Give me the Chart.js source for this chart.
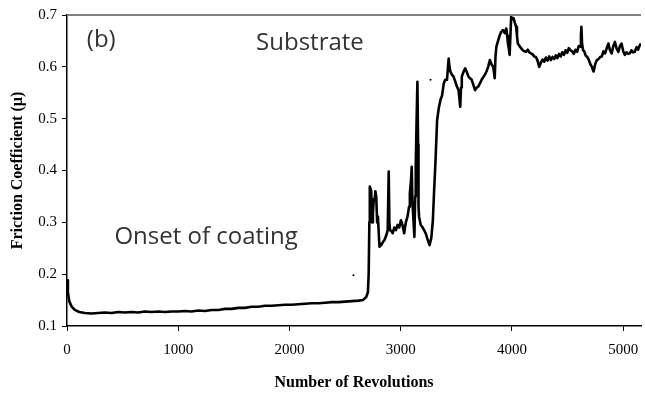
<!DOCTYPE html>
<html>
<head>
<meta charset="utf-8">
<script src="https://cdn.jsdelivr.net/npm/chart.js@4/dist/chart.umd.min.js"></script>
<style>
    html, body { margin: 0; padding: 0; background: #fff; }
    #wrap { width: 645px; height: 394px; }
</style>
</head>
<body>
<div id="wrap"><canvas id="frictionChart" width="645" height="394"></canvas></div>
<script>
// ── Data ──────────────────────────────────────────────────────
const revs = [
    0, 8, 20, 40, 70, 110, 160, 220, 280, 340, 400, 460, 520, 580, 640, 700,
    760, 820, 880, 940, 1000, 1060, 1120, 1180, 1240, 1300, 1360, 1420, 1480,
    1540, 1600, 1660, 1720, 1780, 1840, 1900, 1960, 2020, 2080, 2140, 2200,
    2260, 2320, 2380, 2440, 2500, 2560, 2620, 2660, 2690, 2705, 2712, 2718,
    2722, 2735, 2742, 2750, 2758, 2765, 2772, 2780, 2788, 2795, 2809, 2824,
    2840, 2854, 2870, 2883, 2892, 2898, 2904, 2916, 2928, 2942, 2957, 2972,
    2987, 3002, 3016, 3031, 3046, 3061, 3075, 3082, 3092, 3099, 3105, 3111,
    3123, 3130, 3135, 3143, 3150, 3156, 3160, 3165, 3180, 3194, 3210, 3224,
    3240, 3259, 3275, 3289, 3300, 3313, 3327, 3342, 3357, 3372, 3387, 3400,
    3416, 3425, 3431, 3438, 3446, 3460, 3475, 3490, 3505, 3520, 3535, 3542,
    3549, 3564, 3579, 3594, 3609, 3623, 3638, 3653, 3668, 3683, 3697, 3712,
    3727, 3742, 3757, 3771, 3786, 3801, 3816, 3831, 3838, 3845, 3852, 3860,
    3875, 3890, 3905, 3920, 3935, 3949, 3957, 3964, 3972, 3979, 3986, 3993,
    4004, 4014, 4026, 4038, 4045, 4053, 4068, 4082, 4097, 4112, 4127, 4142,
    4156, 4171, 4186, 4200, 4215, 4230, 4245, 4260, 4275, 4290, 4305, 4320,
    4335, 4349, 4365, 4380, 4394, 4408, 4423, 4438, 4452, 4467, 4482, 4497,
    4511, 4526, 4541, 4556, 4571, 4586, 4600, 4615, 4620, 4624, 4630, 4639,
    4650, 4662, 4674, 4690, 4705, 4719, 4726, 4734, 4748, 4763, 4778, 4793,
    4808, 4822, 4837, 4852, 4867, 4881, 4896, 4911, 4926, 4941, 4956, 4970,
    4985, 5000, 5015, 5030, 5045, 5059, 5075, 5090, 5104, 5120, 5133, 5146, 5160
];
const mu = [
    0.188, 0.165, 0.148, 0.138, 0.131, 0.127, 0.125, 0.124, 0.125, 0.126, 0.125,
    0.127, 0.126, 0.127, 0.126, 0.128, 0.127, 0.128, 0.127, 0.128, 0.128, 0.129,
    0.128, 0.130, 0.129, 0.131, 0.131, 0.133, 0.133, 0.135, 0.135, 0.137, 0.137,
    0.139, 0.139, 0.140, 0.141, 0.141, 0.142, 0.143, 0.144, 0.144, 0.145, 0.146,
    0.146, 0.147, 0.148, 0.149, 0.150, 0.156, 0.165, 0.200, 0.300,
    0.369, 0.360, 0.300, 0.317, 0.345, 0.343, 0.360, 0.349, 0.300, 0.311, 0.253, 0.256,
    0.262, 0.266, 0.275, 0.285, 0.398, 0.300, 0.285, 0.283, 0.279, 0.290, 0.285, 0.295,
    0.290, 0.304, 0.295, 0.279, 0.300, 0.311, 0.330, 0.356, 0.380, 0.407, 0.340, 0.317,
    0.272, 0.350, 0.407, 0.500, 0.571, 0.450, 0.330, 0.311, 0.295, 0.291, 0.285, 0.279,
    0.268, 0.256, 0.270, 0.304, 0.360, 0.420, 0.497, 0.520, 0.536, 0.545, 0.568, 0.575,
    0.575, 0.600, 0.616, 0.600, 0.591, 0.585, 0.581, 0.572, 0.562, 0.555, 0.523, 0.560,
    0.581, 0.590, 0.597, 0.590, 0.581, 0.578, 0.575, 0.565, 0.555, 0.560, 0.562, 0.568,
    0.575, 0.580, 0.585, 0.591, 0.600, 0.613, 0.605, 0.600, 0.590, 0.578, 0.620, 0.639,
    0.650, 0.661, 0.668, 0.671, 0.665, 0.674, 0.660, 0.645, 0.635, 0.623, 0.660, 0.697,
    0.692, 0.694, 0.685, 0.677, 0.660, 0.645, 0.640, 0.636, 0.632, 0.630, 0.629, 0.633,
    0.628, 0.626, 0.624, 0.620, 0.619, 0.612, 0.600, 0.608, 0.614, 0.610, 0.618, 0.612,
    0.620, 0.613, 0.619, 0.615, 0.622, 0.617, 0.625, 0.620, 0.628, 0.623, 0.632, 0.627,
    0.636, 0.632, 0.630, 0.625, 0.633, 0.629, 0.640, 0.639, 0.660, 0.677, 0.645, 0.632,
    0.630, 0.622, 0.620, 0.614, 0.605, 0.600, 0.595, 0.591, 0.605, 0.613, 0.615, 0.619,
    0.620, 0.630, 0.626, 0.636, 0.645, 0.632, 0.626, 0.640, 0.648, 0.635, 0.629, 0.640,
    0.645, 0.630, 0.623, 0.628, 0.625, 0.626, 0.632, 0.628, 0.629, 0.638, 0.633, 0.640, 0.645
];

// two stray specks off the trace
const strayRevs = [2575, 3268];
const strayMu   = [0.198, 0.575];

const xTicks = [0, 1000, 2000, 3000, 4000, 5000];
const yTicks = [0.1, 0.2, 0.3, 0.4, 0.5, 0.6, 0.7];

// annotations placed in data coordinates
const notes = [
    { text: '(b)',              x: 178,  y: 0.652 },
    { text: 'Substrate',        x: 1700, y: 0.646 },
    { text: 'Onset of coating', x: 426,  y: 0.271 }
];

// ── Plugins ───────────────────────────────────────────────────
const topRule = {
    id: 'topRule',
    afterDraw(chart) {
        const { ctx, chartArea } = chart;
        ctx.save();
        ctx.strokeStyle = '#808080';
        ctx.lineWidth = 2;
        ctx.beginPath();
        ctx.moveTo(chartArea.left, chartArea.top);
        ctx.lineTo(chartArea.right, chartArea.top);
        ctx.stroke();
        ctx.restore();
    }
};

const noteLabels = {
    id: 'noteLabels',
    afterDatasetsDraw(chart) {
        const { ctx, scales } = chart;
        ctx.save();
        ctx.fillStyle = '#333';
        ctx.font = '24px "Open Sans", "Noto Sans", sans-serif';
        ctx.textAlign = 'left';
        ctx.textBaseline = 'middle';
        notes.forEach(n => {
            ctx.fillText(n.text, scales.x.getPixelForValue(n.x), scales.y.getPixelForValue(n.y));
        });
        ctx.restore();
    }
};

// ── Chart ─────────────────────────────────────────────────────
const serif = '"Liberation Serif", "Times New Roman", serif';

new Chart(document.getElementById('frictionChart').getContext('2d'), {
    type: 'line',
    data: {
        datasets: [{
            data: revs.map((r, i) => ({ x: r, y: mu[i] })),
            borderColor: '#000',
            borderWidth: 2.6,
            borderJoinStyle: 'round',
            pointRadius: 0,
            tension: 0
        }, {
            type: 'scatter',
            data: strayRevs.map((r, i) => ({ x: r, y: strayMu[i] })),
            backgroundColor: '#000',
            borderWidth: 0,
            pointRadius: 1
        }]
    },
    options: {
        responsive: false,
        animation: false,
        layout: { padding: { top: 15, right: 0, left: 0, bottom: 0 } },
        plugins: { legend: { display: false }, tooltip: { enabled: false } },
        scales: {
            x: {
                type: 'linear',
                min: 0,
                max: 5160,
                afterBuildTicks: s => { s.ticks = xTicks.map(v => ({ value: v })); },
                afterFit: s => { s.height = 68; s.paddingLeft = 0; s.paddingRight = 0; },
                grid: { drawOnChartArea: false, drawTicks: true, tickLength: 5, color: '#000' },
                border: { color: '#000', width: 1.5 },
                ticks: {
                    color: '#000',
                    font: { family: serif, size: 15 },
                    padding: 10,
                    maxRotation: 0,
                    callback: v => String(v)
                },
                title: {
                    display: true,
                    text: 'Number of Revolutions',
                    color: '#000',
                    font: { family: serif, size: 16, weight: 'bold' },
                    padding: { top: 0, bottom: 2 }
                }
            },
            y: {
                min: 0.1,
                max: 0.7,
                afterBuildTicks: s => { s.ticks = yTicks.map(v => ({ value: v })); },
                afterFit: s => { s.width = 67; },
                grid: { drawOnChartArea: false, drawTicks: true, tickLength: 5, color: '#000' },
                border: { color: '#000', width: 1.5 },
                ticks: {
                    color: '#000',
                    font: { family: serif, size: 15 },
                    padding: 5,
                    callback: v => v.toFixed(1)
                },
                title: {
                    display: true,
                    text: 'Friction Coefficient (µ)',
                    color: '#000',
                    font: { family: serif, size: 16, weight: 'bold' },
                    padding: { top: 8, bottom: 0 }
                }
            }
        }
    },
    plugins: [topRule, noteLabels]
});
</script>
</body>
</html>
